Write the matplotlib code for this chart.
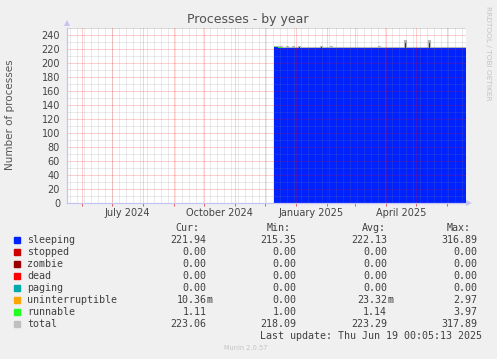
import datetime as dt
import matplotlib
matplotlib.use("Agg")
import matplotlib.pyplot as plt
import matplotlib.dates as mdates
import numpy as np

# ---------------- data ----------------
series_start = dt.date(2024, 12, 10)   # first sample (2-day consolidation)
step_days = 2

sleeping = [
    222.6, 222.4, 222.1, 222.3, 222.0, 221.8, 222.2, 222.5, 222.1, 221.9,
    222.3, 222.0, 222.4, 222.2, 221.9, 222.1, 222.0, 222.3, 222.2, 221.8,
    222.1, 222.0, 222.4, 222.5, 222.1, 221.9, 222.2, 222.0, 222.3, 222.1,
    221.9, 222.2, 222.0, 222.1, 222.3, 222.0, 221.8, 222.2, 222.1, 222.0,
    222.3, 222.1, 221.9, 222.0, 222.2, 222.1, 222.0, 221.9, 222.2, 222.3,
    222.0, 222.1, 222.0, 221.9, 222.2, 222.1, 222.0, 222.2, 222.1, 221.9,
    222.0, 222.2, 222.1, 222.0, 222.1, 229.5, 222.3, 222.1, 222.0, 221.9,
    222.1, 222.2, 222.0, 222.1, 221.9, 222.0, 222.1, 229.0, 222.2, 222.0,
    222.1, 221.9, 222.0, 222.2, 222.1, 222.0, 221.9, 222.1, 222.0, 222.2,
    222.1, 222.0, 221.9, 222.0, 222.1, 221.9,
]
uninterruptible = [
    0.0, 0.0, 0.0, 0.0, 0.0, 0.0, 0.0, 0.0, 0.0, 0.0,
    0.0, 0.0, 0.0, 0.0, 0.0, 0.0, 0.0, 0.0, 0.0, 0.0,
    0.0, 0.0, 0.0, 0.0, 0.0, 0.0, 0.0, 0.0, 0.0, 0.0,
    0.0, 0.0, 0.0, 0.0, 0.0, 0.0, 0.0, 0.0, 0.0, 0.0,
    0.0, 0.0, 0.0, 0.0, 0.0, 0.0, 0.0, 0.0, 0.0, 0.0,
    0.0, 0.0, 0.6, 0.0, 0.0, 0.0, 0.0, 0.0, 0.0, 0.0,
    0.0, 0.0, 0.0, 0.0, 0.0, 1.0, 0.0, 0.0, 0.0, 0.0,
    0.0, 0.0, 0.0, 0.0, 0.0, 0.0, 0.0, 1.0, 0.0, 0.0,
    0.0, 0.0, 0.0, 0.0, 0.0, 0.0, 0.0, 0.0, 0.0, 0.0,
    0.0, 0.0, 0.0, 0.0, 0.0, 0.0,
]
runnable = [
    2.5, 2.3, 2.6, 2.2, 1.1, 1.1, 2.4, 1.1, 1.1, 2.5,
    1.1, 1.1, 2.3, 1.1, 1.1, 1.1, 1.1, 1.1, 1.1, 1.1,
    1.1, 1.1, 1.1, 2.6, 1.1, 1.1, 1.1, 1.1, 2.4, 1.1,
    1.1, 1.1, 1.1, 1.1, 1.1, 1.1, 1.1, 1.1, 1.1, 1.1,
    1.1, 1.1, 1.1, 1.1, 1.1, 1.1, 1.1, 1.1, 1.1, 1.1,
    1.1, 1.1, 1.3, 1.1, 1.1, 1.1, 1.1, 1.1, 1.1, 1.1,
    1.1, 1.1, 1.1, 1.1, 1.1, 3.0, 1.1, 1.1, 1.1, 1.1,
    1.1, 1.1, 1.1, 1.1, 1.1, 1.1, 1.1, 3.0, 1.1, 1.1,
    1.1, 1.1, 1.1, 1.1, 1.1, 1.1, 1.1, 1.1, 1.1, 1.1,
    1.1, 1.1, 1.1, 1.1, 1.1, 1.1,
]
total = [
    225.1, 224.7, 224.7, 224.5, 223.1, 222.9, 224.6, 223.6, 223.2, 224.4,
    223.4, 223.1, 224.7, 223.3, 223.0, 223.2, 223.1, 223.4, 223.3, 222.9,
    223.2, 223.1, 223.5, 225.1, 223.2, 223.0, 223.3, 223.1, 224.7, 223.2,
    223.0, 223.3, 223.1, 223.2, 223.4, 223.1, 222.9, 223.3, 223.2, 223.1,
    223.4, 223.2, 223.0, 223.1, 223.3, 223.2, 223.1, 223.0, 223.3, 223.4,
    223.1, 223.2, 224.0, 223.0, 223.3, 223.2, 223.1, 223.3, 223.2, 223.0,
    223.1, 223.3, 223.2, 223.1, 223.2, 233.6, 223.4, 223.2, 223.1, 223.0,
    223.2, 223.3, 223.1, 223.2, 223.0, 223.1, 223.2, 233.1, 223.3, 223.1,
    223.2, 223.0, 223.1, 223.3, 223.2, 223.1, 223.0, 223.2, 223.1, 223.3,
    223.2, 223.1, 223.0, 223.1, 223.2, 223.0,
]
n_pts = len(sleeping)
zeros = [0.0] * n_pts
stopped, zombie, dead, paging = zeros, zeros, zeros, zeros

legend_names = ["sleeping", "stopped", "zombie", "dead", "paging",
                "uninterruptible", "runnable", "total"]
legend_colors = ["#0022ff", "#cc0000", "#990000", "#ff0000", "#00aaaa",
                 "#ffa500", "#22ff22", "#c0c0c0"]
cur_vals = ["221.94", "0.00", "0.00", "0.00", "0.00", "10.36m", "1.11", "223.06"]
min_vals = ["215.35", "0.00", "0.00", "0.00", "0.00", "0.00", "1.00", "218.09"]
avg_vals = ["222.13", "0.00", "0.00", "0.00", "0.00", "23.32m", "1.14", "223.29"]
max_vals = ["316.89", "0.00", "0.00", "0.00", "0.00", "2.97", "3.97", "317.89"]

x_start = dt.date(2024, 5, 17)
x_end = dt.date(2025, 6, 20)
ymax = 251
ytick_vals = list(range(0, 241, 20))
xlabel_dates = [dt.date(2024, 7, 16), dt.date(2024, 10, 16),
                dt.date(2025, 1, 16), dt.date(2025, 4, 16)]
xlabel_texts = ["July 2024", "October 2024", "January 2025", "April 2025"]

# ---------------- figure ----------------
W, H = 497, 359
fig = plt.figure(figsize=(W / 100, H / 100), dpi=100, facecolor="#f0f0f0")

def fx(px):
    return px / W

def fy(py):
    return 1 - py / H

L, R, T, B = 67, 466, 27.5, 203
ax = fig.add_axes([fx(L), fy(B), (R - L) / W, (B - T) / H])
ax.set_facecolor("white")
for s in ax.spines.values():
    s.set_visible(False)

x0n = mdates.date2num(x_start)
x1n = mdates.date2num(x_end)
ax.set_xlim(x0n, x1n)
ax.set_ylim(0, ymax)

edges = mdates.date2num([series_start + dt.timedelta(days=step_days * i)
                         for i in range(n_pts + 1)])

# stacked areas
base = np.zeros(n_pts)
for vals, col in zip([sleeping, stopped, zombie, dead, paging, uninterruptible, runnable],
                     legend_colors[:7]):
    top = base + np.array(vals)
    if np.any(np.array(vals) > 0):
        ax.stairs(top, edges, baseline=base.copy(), fill=True, color=col,
                  linewidth=0, zorder=2)
    base = top
ax.stairs(total, edges, baseline=None, fill=False, color="#b8b8b8",
          linewidth=0.8, zorder=3)

# grid
dot = (0, (1, 1))
minor_c = (0.5, 0.5, 0.5, 0.33)
major_c = (1.0, 0.0, 0.0, 0.38)
gkw = dict(lw=0.72, ls=dot, zorder=4)
for v in range(10, ymax, 10):
    ax.axhline(v, color=major_c if v % 20 == 0 else minor_c, **gkw)
ax.axhline(ymax - 0.3, color=minor_c, **gkw)

# weekly minor vertical (Mondays), monthly major vertical
d = x_start
while d.weekday() != 0:
    d += dt.timedelta(days=1)
while d < x_end:
    ax.axvline(mdates.date2num(d), color=minor_c, **gkw)
    d += dt.timedelta(days=7)
month_starts = []
y_, m_ = 2024, 6
while dt.date(y_, m_, 1) < x_end:
    month_starts.append(dt.date(y_, m_, 1))
    m_ += 1
    if m_ > 12:
        m_ = 1
        y_ += 1
for ms in month_starts:
    ax.axvline(mdates.date2num(ms), color=major_c, **gkw)

# ticks
ax.set_yticks(ytick_vals)
ax.set_yticklabels([str(v) for v in ytick_vals])
ax.tick_params(axis="y", length=0, pad=5, labelsize=7, labelcolor="#444444")
ax.set_xticks(mdates.date2num(month_starts), minor=True)
ax.set_xticks(mdates.date2num(xlabel_dates))
ax.set_xticklabels(xlabel_texts)
ax.tick_params(axis="x", which="major", length=0, pad=3.5, labelsize=7,
               labelcolor="#444444")
ax.tick_params(axis="x", which="minor", length=2.2, width=0.72, color="#e06060",
               direction="out")

# axis lines and arrows
axc = "#c4c4f4"
ax.plot([x0n, x1n], [0, 0], color=axc, lw=0.9, clip_on=False, zorder=5)
ax.plot([x0n, x0n], [0, ymax], color=axc, lw=0.9, clip_on=False, zorder=5)
ax.plot([x1n + 2.5], [0], marker=">", color=axc, markersize=4.5, clip_on=False,
        zorder=5, markeredgewidth=0)
ax.plot([x0n], [ymax + 6], marker="^", color=axc, markersize=4.5, clip_on=False,
        zorder=5, markeredgewidth=0)

# texts
fig.text(fx(248), fy(19), "Processes - by year", ha="center", va="center",
         fontsize=9, color="#505050")
fig.text(fx(10.5), fy(115), "Number of processes", ha="center", va="center",
         rotation=90, fontsize=7.5, color="#555555")
fig.text(fx(488), fy(53), "RRDTOOL / TOBI OETIKER", ha="center", va="center",
         rotation=270, fontsize=5.3, color="#c4c4c4")
fig.text(fx(246), fy(348), "Munin 2.0.57", ha="center", va="center",
         fontsize=4.8, color="#c4c4c4")

mono = "DejaVu Sans Mono"
fs = 7.2
tc = "#404040"
for hx, ht in [(199.5, "Cur:"), (290.5, "Min:"), (385.5, "Avg:"), (470.5, "Max:")]:
    fig.text(fx(hx), fy(228), ht, ha="right", va="center", family=mono,
             fontsize=fs, color=tc)

col_right = [206.7, 296.7, 387, 477]
row0, dy = 239.7, 12
for i, (name, col) in enumerate(zip(legend_names, legend_colors)):
    yy = row0 + i * dy
    fig.patches.append(plt.Rectangle((fx(14), fy(yy + 3)), 6 / W, 6 / H,
                                     transform=fig.transFigure, color=col,
                                     figure=fig))
    fig.text(fx(27), fy(yy), name, ha="left", va="center", family=mono,
             fontsize=fs, color=tc)
    for cx, vals in zip(col_right, [cur_vals, min_vals, avg_vals, max_vals]):
        v = vals[i]
        num, suf = (v[:-1], v[-1]) if v[-1].isalpha() else (v, "")
        fig.text(fx(cx), fy(yy), num, ha="right", va="center", family=mono,
                 fontsize=fs, color=tc)
        if suf:
            fig.text(fx(cx), fy(yy), suf, ha="left", va="center", family=mono,
                     fontsize=fs, color=tc)

fig.text(fx(482), fy(336), "Last update: Thu Jun 19 00:05:13 2025", ha="right",
         va="center", family=mono, fontsize=fs, color=tc)

fig.savefig("out.png", dpi=100, facecolor=fig.get_facecolor())
